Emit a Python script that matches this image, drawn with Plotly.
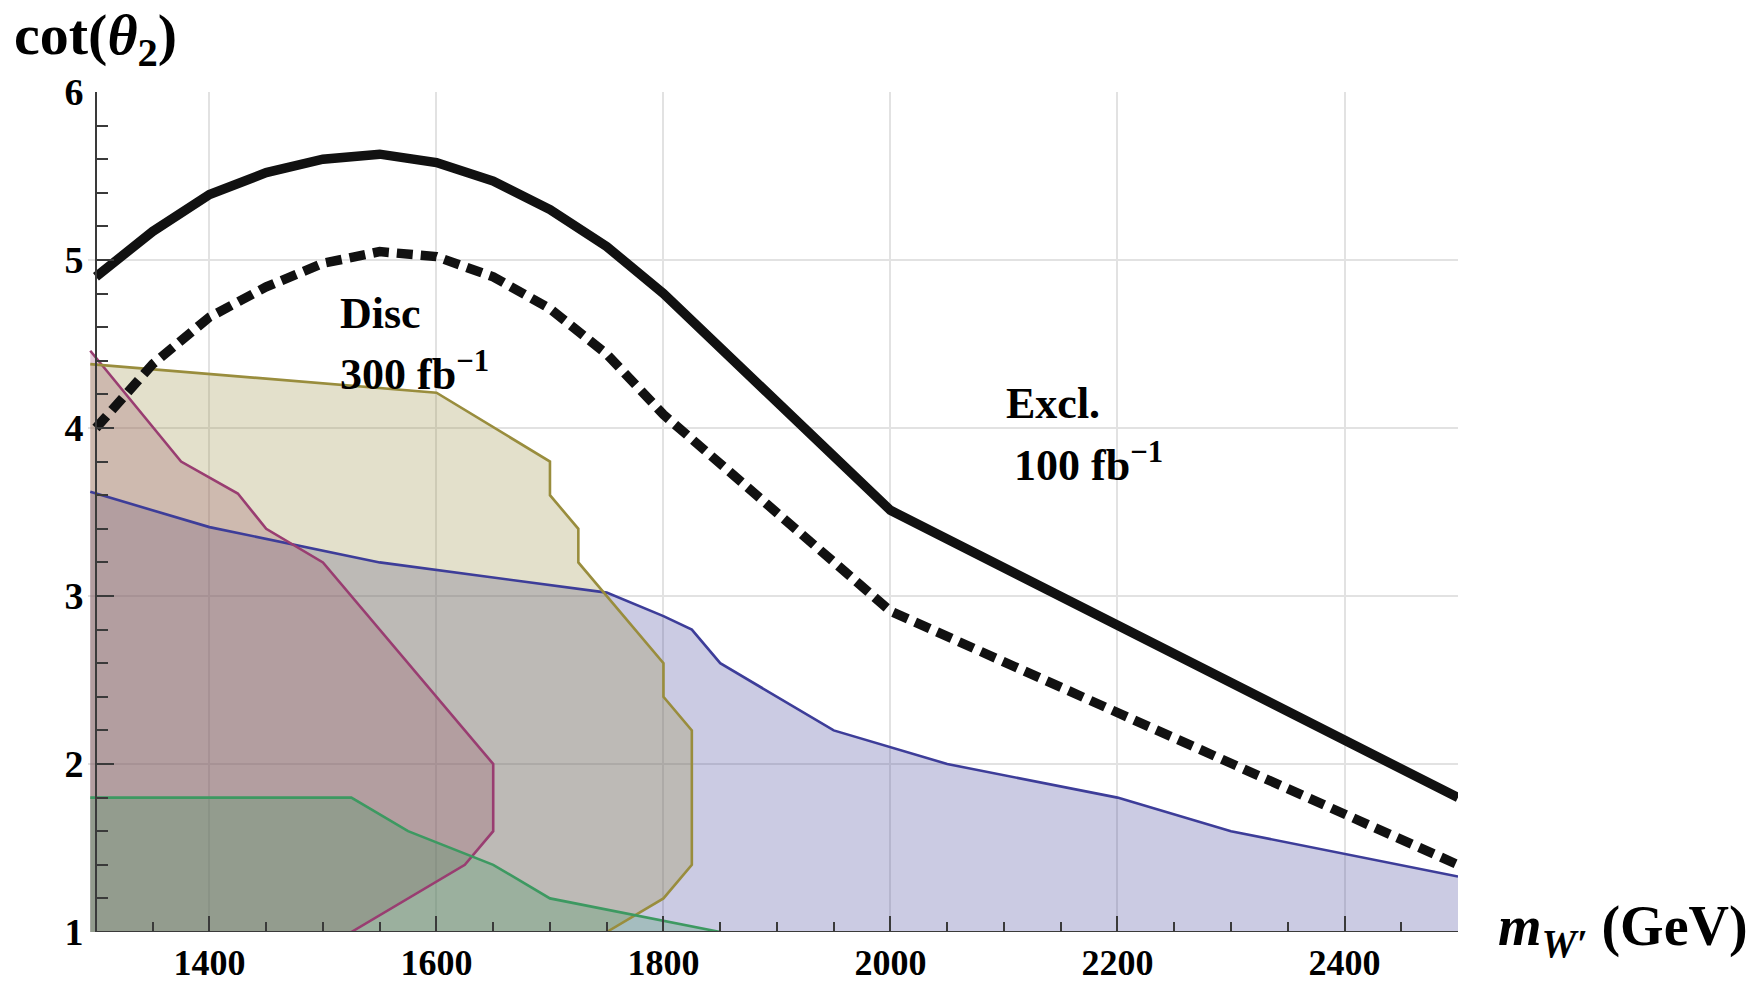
import plotly.graph_objects as go

# --- W' mass grid and limit curves -------------------------------------------
m_curve = [1300, 1350, 1400, 1450, 1500, 1550, 1600, 1650, 1700, 1750, 1800, 2000, 2500]
excl_100 = [4.90, 5.17, 5.39, 5.52, 5.60, 5.63, 5.58, 5.47, 5.30, 5.08, 4.80, 3.51, 1.80]
disc_300 = [4.00, 4.38, 4.66, 4.84, 4.98, 5.05, 5.02, 4.90, 4.71, 4.44, 4.08, 2.91, 1.40]

# --- constraint regions (boundaries, filled down to the axis) -----------------
blue_m = [1295, 1400, 1550, 1750, 1800, 1825, 1850, 1950, 2050, 2200, 2300, 2500]
blue_c = [3.62, 3.41, 3.20, 3.02, 2.88, 2.80, 2.60, 2.20, 2.00, 1.80, 1.60, 1.33]

magenta_m = [1295, 1375, 1425, 1450, 1500, 1650, 1650, 1625, 1525]
magenta_c = [4.46, 3.80, 3.61, 3.40, 3.20, 2.00, 1.60, 1.40, 1.00]

olive_m = [1295, 1600, 1700, 1700, 1725, 1725, 1800, 1800, 1825, 1825, 1800, 1750]
olive_c = [4.38, 4.21, 3.80, 3.60, 3.40, 3.20, 2.60, 2.40, 2.20, 1.40, 1.20, 1.00]

green_m = [1295, 1525, 1575, 1650, 1700, 1850]
green_c = [1.80, 1.80, 1.60, 1.40, 1.20, 1.00]

x_ticks = [1400, 1600, 1800, 2000, 2200, 2400]
y_ticks = [1, 2, 3, 4, 5, 6]

regions = [
    (blue_m, blue_c, (61, 61, 153)),
    (magenta_m, magenta_c, (153, 61, 113)),
    (olive_m, olive_c, (153, 141, 61)),
    (green_m, green_c, (61, 153, 97)),
]

W, H = 1761, 987
X_LO, X_HI = 1293, 2500
PX_LEFT, PX_RIGHT = 88.0, 1458.0
PX_TOP, PX_BOTTOM = 92.0, 932.0

SERIF = "Liberation Serif"

fig = go.Figure()

# translucent fills
for xs, ys, (r, g, b) in regions:
    fig.add_trace(go.Scatter(
        x=xs, y=ys, mode="lines", fill="tozeroy",
        fillcolor=f"rgba({r},{g},{b},0.27)",
        line=dict(width=0, color=f"rgba({r},{g},{b},0)"),
        hoverinfo="skip", showlegend=False,
    ))

# region boundaries
for xs, ys, (r, g, b) in regions:
    fig.add_trace(go.Scatter(
        x=xs, y=ys, mode="lines",
        line=dict(width=2.6, color=f"rgb({r},{g},{b})"),
        showlegend=False,
    ))

# limit curves
fig.add_trace(go.Scatter(
    x=m_curve, y=excl_100, mode="lines",
    line=dict(width=9.5, color="#111111"), showlegend=False,
))
fig.add_trace(go.Scatter(
    x=m_curve, y=disc_300, mode="lines",
    line=dict(width=9.5, color="#111111", dash="16px,8px"), showlegend=False,
))

axis_col = "#3a3a3a"
grid_col = "#e2e2e2"
tick_font = dict(family=SERIF, size=36, weight="bold", color="black")

fig.update_layout(
    width=W, height=H,
    margin=dict(l=0, r=0, t=0, b=0),
    paper_bgcolor="white", plot_bgcolor="white",
    font=dict(family=SERIF, color="black"),
    xaxis=dict(
        domain=[PX_LEFT / W, PX_RIGHT / W],
        range=[X_LO, X_HI],
        automargin=False,
        tickvals=x_ticks, ticktext=[str(v) for v in x_ticks],
        ticks="inside", ticklen=16, tickwidth=1.6, tickcolor=axis_col,
        minor=dict(tick0=1300, dtick=50, ticks="inside", ticklen=10,
                   tickwidth=1.6, tickcolor=axis_col, showgrid=False),
        showgrid=True, gridcolor=grid_col, gridwidth=1.5,
        showline=False, zeroline=False,
        tickfont=tick_font,
        ticklabelstandoff=6,
    ),
    yaxis=dict(
        domain=[1 - PX_BOTTOM / H, 1 - PX_TOP / H],
        range=[1, 6],
        automargin=False,
        anchor="free",
        position=(PX_LEFT + (1300 - X_LO) * (PX_RIGHT - PX_LEFT) / (X_HI - X_LO)) / W,
        tickvals=y_ticks, ticktext=[str(v) for v in y_ticks],
        ticks="inside", ticklen=17, tickwidth=1.6, tickcolor=axis_col,
        minor=dict(dtick=0.2, ticks="inside", ticklen=11,
                   tickwidth=1.6, tickcolor=axis_col, showgrid=False),
        showgrid=True, gridcolor=grid_col, gridwidth=1.5,
        showline=True, linecolor=axis_col, linewidth=1.8,
        zeroline=False,
        tickfont=dict(family=SERIF, size=38, weight="bold", color="black"),
        ticklabelstandoff=4,
    ),
)

# horizontal axis line starting at the vertical axis
fig.add_shape(type="line", xref="x", yref="y", x0=1300, x1=X_HI, y0=1, y1=1,
              line=dict(color=axis_col, width=1.8), layer="above")

label_font = dict(family=SERIF, size=44, color="black", weight="bold")


def paper(px, py):
    return px / W, 1 - py / H


for text, px, py in [
    ("Disc", 338, 313),
    ("300 fb<sup>\u22121</sup>", 338, 372),
    ("Excl.", 1004, 403),
    ("100 fb<sup>\u22121</sup>", 1012, 462),
]:
    xp, yp = paper(px, py)
    fig.add_annotation(x=xp, y=yp, xref="paper", yref="paper", text=text,
                       showarrow=False, xanchor="left", yanchor="middle",
                       font=label_font)

xp, yp = paper(12, 38)
fig.add_annotation(x=xp, y=yp, xref="paper", yref="paper",
                   text="cot(<i>\u03b8</i><sub>2</sub>)", showarrow=False,
                   xanchor="left", yanchor="middle",
                   font=dict(family=SERIF, size=58, color="black", weight="bold"))

xp, yp = paper(1496, 930)
fig.add_annotation(x=xp, y=yp, xref="paper", yref="paper",
                   text="<i>m</i><sub><i>W\u2032</i></sub> (GeV)", showarrow=False,
                   xanchor="left", yanchor="middle",
                   font=dict(family=SERIF, size=56, color="black", weight="bold"))

fig.write_html("out.html")
